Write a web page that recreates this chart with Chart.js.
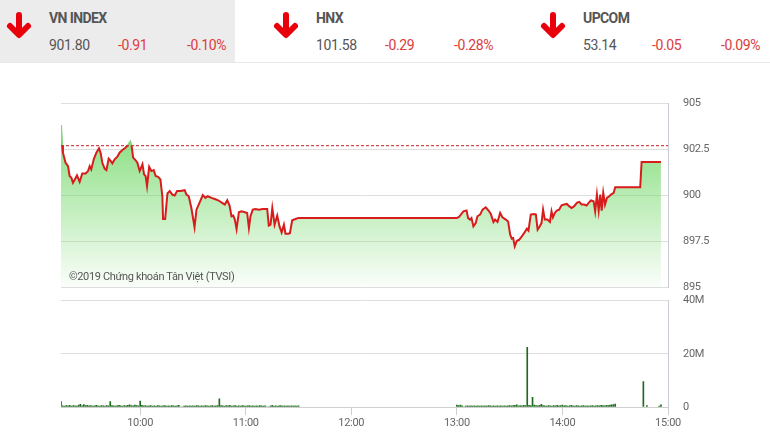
<!DOCTYPE html>
<html>
<head>
<meta charset="utf-8">
<script src="https://cdn.jsdelivr.net/npm/chart.js@4.4.1/dist/chart.umd.min.js"></script>
<style>
  body { margin: 0; width: 770px; height: 438px; overflow: hidden; background: #fff; font-family: Roboto, sans-serif; position: relative; }
  .hdr { position: absolute; left: 0; top: 0; width: 770px; height: 62px; border-bottom: 1px solid #e8e8e8; }
  .panel { position: absolute; top: 0; height: 62px; width: 235px; }
  .panel.active { background: #ececec; }
  .panel svg { position: absolute; top: 12px; }
  .name { position: absolute; top: 10px; font-size: 14px; line-height: 16px; font-weight: 700; color: #555; letter-spacing: -0.6px; }
  .val { position: absolute; top: 37px; font-size: 14px; line-height: 16px; color: #555; letter-spacing: -0.4px; }
  .val.red { color: #dd3b3b; }
  #priceChart { position: absolute; left: 0; top: 82px; }
  #volChart { position: absolute; left: 0; top: 279px; }
  .copy { position: absolute; left: 69px; top: 270px; font-size: 11px; line-height: 14px; color: #555; letter-spacing: -0.35px; }
</style>
</head>
<body>
<div class="hdr"></div>
<div id="panels"></div>
<canvas id="priceChart" width="770" height="227"></canvas>
<canvas id="volChart" width="770" height="159"></canvas>
<div class="copy">©2019 Chứng khoán Tân Việt (TVSI)</div>
<script>
// header quotes
const indexNames = ['VN INDEX', 'HNX', 'UPCOM'];
const indexValues = ['901.80', '101.58', '53.14'];
const indexChanges = ['-0.91', '-0.29', '-0.05'];
const indexPercents = ['-0.10%', '-0.28%', '-0.09%'];

// intraday VN-Index, time in minutes after 09:00
const priceTimes = [
  15.0, 15.7, 16.1, 17.6, 19.0, 19.9, 20.9, 21.8, 22.7, 24.1, 25.6, 27.1, 29.0, 30.4, 31.3, 32.2,
  33.6, 35.1, 36.6, 37.5, 38.5, 39.8, 40.8, 42.1, 43.2, 44.2, 45.5, 47.0, 48.3, 49.9, 51.6, 53.1,
  54.4, 55.2, 56.0, 57.3, 58.4, 59.7, 61.3, 62.2, 63.1, 63.9, 65.1, 66.4, 67.7, 68.8, 70.2, 71.5,
  72.6, 73.0, 74.2, 75.5, 76.8, 78.3, 79.6, 81.0, 82.9, 85.3, 86.3, 87.6, 89.1, 90.9, 92.0, 93.7,
  95.6, 97.1, 98.4, 100.5, 102.4, 104.3, 106.6, 108.1, 109.5, 110.8, 111.9, 112.9, 113.8, 114.8,
  116.1, 117.6, 119.5, 120.8, 121.8, 122.7, 124.0, 125.6, 127.4, 129.7, 132.2, 133.1, 134.1, 135.1,
  136.4, 137.9, 139.2, 140.4, 141.7, 142.6, 144.2, 145.1, 146.4, 148.3, 150.0,
  240.0, 241.2, 243.7, 245.5, 246.4, 247.5, 248.3, 249.4, 250.7, 251.7, 253.2, 254.6, 256.4, 258.0,
  259.3, 260.8, 261.7, 263.1, 264.6, 265.9, 267.8, 269.1, 270.3, 271.2, 272.0, 272.9, 274.1, 275.4,
  276.9, 278.2, 279.8, 280.7, 282.0, 283.9, 284.9, 285.9, 286.8, 288.1, 289.0, 290.0, 291.5, 292.9,
  293.8, 294.6, 295.7, 296.8, 298.1, 299.5, 301.0, 302.5, 303.8, 305.2, 306.7, 308.2, 309.5, 310.9,
  312.4, 313.7, 314.9, 316.2, 317.7, 318.6, 319.6, 320.6, 321.5, 322.3, 323.2, 324.2, 325.3, 326.6,
  327.6, 329.1, 330.0, 344.2, 345.0, 356.0
];
const priceValues = [
  903.83, 902.70, 902.33, 901.78, 901.60, 901.06, 900.96, 900.69, 900.84, 901.09, 900.74, 901.20, 901.20, 901.33, 901.60, 901.42,
  901.97, 902.33, 902.57, 902.33, 901.78, 901.46, 901.38, 902.00, 901.88, 901.75, 901.97, 902.11, 902.33, 902.48, 902.60, 902.74,
  902.92, 902.66, 902.06, 901.93, 901.78, 901.33, 901.70, 901.15, 901.06, 900.51, 901.56, 901.33, 901.38, 901.06, 901.02, 900.88,
  899.96, 898.72, 898.72, 900.11, 900.24, 900.05, 900.00, 900.24, 900.24, 900.29, 900.05, 899.96, 899.32, 898.28, 899.23, 899.60,
  900.02, 899.87, 899.96, 899.87, 899.81, 899.74, 899.60, 899.51, 899.74, 899.45, 898.87, 898.91, 898.69, 898.17,
  899.09, 899.14, 899.09, 899.05, 898.23, 898.87, 899.23, 899.27, 899.23, 899.27, 899.27, 898.36, 898.41, 899.32,
  898.41, 898.91, 898.32, 897.99, 898.41, 897.92, 897.92, 897.95, 898.65, 898.72, 898.78,
  898.78, 898.83, 899.14, 899.18, 898.77, 898.69, 898.77, 898.32, 898.50, 898.87, 898.96, 899.23, 899.36, 899.18,
  898.99, 898.56, 898.69, 898.56, 899.05, 898.81, 898.69, 898.59, 897.87, 897.65, 897.68, 897.23, 897.54, 897.59,
  897.77, 897.95, 898.19, 898.09, 898.96, 898.99, 898.96, 898.14, 898.27, 898.50, 899.23, 898.69, 898.69, 898.56,
  899.14, 898.81, 899.05, 899.18, 899.23, 899.47, 899.51, 899.54, 899.42, 899.32, 899.42, 899.60, 899.65, 899.51,
  899.51, 899.45, 899.60, 899.73, 899.69, 899.14, 900.05, 899.18, 900.05, 899.18, 900.14, 899.51, 899.87, 899.96,
  900.05, 900.14, 900.45, 900.45, 901.82, 901.82
];
const refPrice = 902.71;
const priceTicks = [895, 897.5, 900, 902.5, 905];

// 1-minute matched volume, millions of shares
const volMorningStart = 15; // 09:15
const volMorning = [
  2.0, 0.4, 0.3, 0.5, 0.4, 0.6, 0.3, 0.5, 0.4, 0.3, 0.7, 1.0, 0.4, 0.9, 0.5,
  0.6, 0.4, 0.5, 0.3, 0.4, 0.6, 0.4, 0.3, 0.5, 0.4, 0.3, 0.5, 0.4, 2.0, 0.5,
  0.4, 0.3, 0.5, 0.6, 0.4, 0.3, 0.5, 0.4, 0.6, 0.8, 0.5, 0.4, 0.7, 0.5, 0.4,
  2.2, 0.6, 0.4, 0.5, 0.3, 0.4, 0.5, 0.3, 0.4, 0.3, 0.5, 0.4, 0.3, 0.4, 0.5,
  0.3, 0.4, 0.3, 0.5, 0.4, 0.3, 0.4, 0.6, 0, 0, 0.3, 0.4, 0.3, 0.4, 0.3,
  0.4, 0.3, 0.5, 0.4, 0.3, 0.4, 0.3, 0.5, 0.4, 0.3, 0.4, 0.5, 0.3, 0.4, 0.5,
  3.1, 0.5, 0.4, 0.3, 0.5, 0.4, 0.6, 0.3, 0.4, 0.5, 0.3, 0.4, 0.3, 0.5, 0.4,
  0.3, 0.4, 0.5, 0.3, 0.4, 0.3, 0.4, 0.3, 0.5, 0.4, 0.3, 0.4, 0, 0, 0.3,
  0.6, 0.3, 0.4, 0.3, 0.4, 0.5, 0.3, 0.4, 0.3, 0.4, 0.3, 0.4, 0.3, 0.4, 0.3,
  0.4
];
const volAfternoonStart = 240; // 13:00
const volAfternoon = [
  0.7, 0.5, 0.7, 0.4, 0, 0.3, 0.4, 0.3, 0.4, 0.3, 0.4, 0.3, 0.4, 0.3, 0.4,
  0.3, 0.4, 0.3, 0.5, 0.4, 0.3, 0.4, 0.3, 0.4, 0.3, 0.4, 0.3, 0.4, 0.3, 0.4,
  0.5, 0.4, 0.5, 0.6, 0.8, 0.4, 0.5, 0.4, 0.6, 0.5, 22.4, 0.6, 0.5, 3.6, 0.7,
  0.5, 0.4, 0.6, 1.0, 0.5, 0.4, 0.3, 0.5, 0.4, 0.3, 0.5, 0.4, 0.6, 0.4, 0.5,
  0.7, 0.4, 0.5, 0.3, 0.4, 0.6, 0.4, 0.3, 0.5, 0.4, 0.3, 0.4, 0.5, 0.3, 0.4,
  0.3, 0.4, 0.5, 0.3, 0.4, 0.5, 0.4, 0.6, 0.5, 0.4, 0.6, 0.5, 0.7, 0.8, 0.9,
  1.1
];
const volCloseTimes = [346, 348, 355, 356];
const volCloseValues = [9.6, 0.5, 0.3, 0.8];

const timeTicks = [60, 120, 180, 240, 300, 360];
const timeLabels = ['10:00', '11:00', '12:00', '13:00', '14:00', '15:00'];
const volTicks = [0, 20, 40];
const volLabels = ['0', '20M', '40M'];

// header
const arrowSvg = '<svg width="28" height="28" viewBox="0 0 28 28"><path d="M14 3 V22 M5 14 L14 23 L23 14" stroke="#e8000b" stroke-width="6" fill="none" stroke-linecap="round" stroke-linejoin="round"/></svg>';
const panelX = [0, 267, 534];
document.getElementById('panels').innerHTML = indexNames.map((n, i) => `
  <div class="panel ${i === 0 ? 'active' : ''}" style="left:${panelX[i]}px">
    <div style="position:absolute;left:5px;top:0">${arrowSvg}</div>
    <div class="name" style="left:49px">${n}</div>
    <div class="val" style="left:49px">${indexValues[i]}</div>
    <div class="val red" style="left:118px">${indexChanges[i]}</div>
    <div class="val red" style="left:187px">${indexPercents[i]}</div>
  </div>`).join('');

const tickFont = { family: 'Roboto', size: 11 };
const gridColor = '#dedede';
// narrow tick labels a little, like the condensed font of the original
const narrowText = { id: 'narrowText', beforeDraw: chart => { chart.ctx.letterSpacing = '-0.3px'; } };

function splitColor(ctx, above, below) {
  const chart = ctx.chart;
  const area = chart.chartArea;
  if (!area) return below;
  const y = chart.scales.y.getPixelForValue(refPrice);
  const f = Math.min(1, Math.max(0, (y - area.top) / (area.bottom - area.top)));
  const g = chart.ctx.createLinearGradient(0, area.top, 0, area.bottom);
  g.addColorStop(0, above);
  g.addColorStop(f, above);
  g.addColorStop(f, below);
  g.addColorStop(1, below);
  return g;
}

function fillColor(ctx) {
  const chart = ctx.chart;
  const area = chart.chartArea;
  if (!area) return 'rgba(120,220,110,0.4)';
  const g = chart.ctx.createLinearGradient(0, area.top, 0, area.bottom);
  g.addColorStop(0, 'rgba(110,215,100,0.95)');
  g.addColorStop(1, 'rgba(110,215,100,0.03)');
  return g;
}

new Chart(document.getElementById('priceChart'), {
  type: 'line',
  data: {
    datasets: [
      {
        data: [{ x: 15, y: refPrice }, { x: 360, y: refPrice }],
        borderColor: '#c81e1e', borderWidth: 1, borderDash: [3, 2], pointRadius: 0, fill: false
      },
      {
        data: priceTimes.map((t, i) => ({ x: t, y: priceValues[i] })),
        borderColor: ctx => splitColor(ctx, '#82d67c', '#d81b1b'),
        backgroundColor: fillColor,
        fill: 'start', borderWidth: 2, pointRadius: 0, tension: 0
      }
    ]
  },
  plugins: [narrowText],
  options: {
    responsive: false, animation: false,
    layout: { padding: { left: 61, top: 10, bottom: 10, right: 0 } },
    plugins: { legend: { display: false }, tooltip: { enabled: false } },
    scales: {
      x: { type: 'linear', min: 15, max: 360, display: false },
      y: {
        position: 'right', min: 895, max: 905,
        afterBuildTicks: s => { s.ticks = priceTicks.map(v => ({ value: v })); },
        afterFit: s => { s.width = 102; },
        grid: { color: gridColor, drawTicks: false },
        border: { color: '#c9ccd3' },
        ticks: { padding: 15, color: '#666', font: tickFont }
      }
    }
  }
});

const volPoints = [
  ...volMorning.map((v, i) => ({ x: volMorningStart + i, y: v })),
  ...volAfternoon.map((v, i) => ({ x: volAfternoonStart + i, y: v })),
  ...volCloseTimes.map((t, i) => ({ x: t, y: volCloseValues[i] }))
];

new Chart(document.getElementById('volChart'), {
  type: 'bar',
  data: { datasets: [{ data: volPoints, backgroundColor: '#1d6b1d', barThickness: 1 }] },
  plugins: [narrowText],
  options: {
    responsive: false, animation: false,
    layout: { padding: { left: 61, top: 10, bottom: 5, right: 0 } },
    plugins: { legend: { display: false }, tooltip: { enabled: false } },
    scales: {
      x: {
        type: 'linear', min: 15, max: 360, offset: false,
        afterBuildTicks: s => { s.ticks = timeTicks.map(v => ({ value: v })); },
        afterFit: s => { s.height = 26; },
        grid: { drawOnChartArea: false, tickLength: 8, color: '#cfcfcf', offset: false },
        border: { color: '#cfcfcf' },
        ticks: { padding: 2, color: '#666', font: tickFont, maxRotation: 0, autoSkip: false,
          callback: (v, i) => timeLabels[i] }
      },
      y: {
        position: 'right', min: 0, max: 40,
        afterBuildTicks: s => { s.ticks = volTicks.map(v => ({ value: v })); },
        afterFit: s => { s.width = 102; },
        grid: { color: gridColor, drawTicks: false },
        border: { color: '#c9ccd3' },
        ticks: { padding: 15, color: '#666', font: tickFont, callback: (v, i) => volLabels[i] }
      }
    }
  }
});
</script>
</body>
</html>
